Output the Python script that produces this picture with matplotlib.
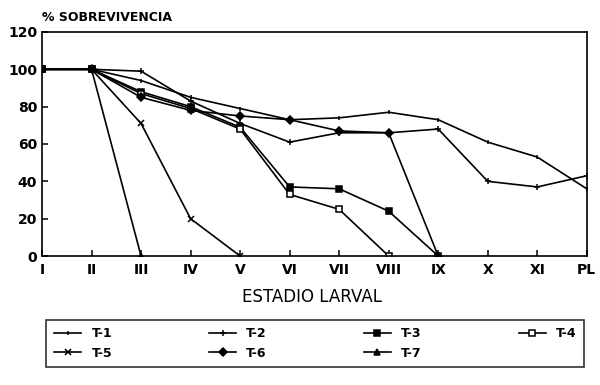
import numpy as np
import matplotlib.pyplot as plt

plt.rcParams['font.family'] = ['DejaVu Sans']

# datos (% sobrevivencia por estadio larval)
estadios = ['I', 'II', 'III', 'IV', 'V', 'VI', 'VII', 'VIII', 'IX', 'X', 'XI', 'PL']
t1 = [100, 100, 94, 85, 79, 73, 74, 77, 73, 61, 53, 36]
t2 = [100, 100, 99, 83, 71, 61, 66, 66, 68, 40, 37, 43]
t3 = [100, 100, 88, 80, 69, 37, 36, 24, 0]
t4 = [100, 100, 87, 79, 68, 33, 25, 0]
t5 = [100, 100, 71, 20, 0]
t6 = [100, 100, 85, 78, 75, 73, 67, 66, 0]
t7 = [100, 100, 0]

series = [
    ('T-1', t1, '|', 'k'),
    ('T-2', t2, '+', 'k'),
    ('T-3', t3, 's', 'k'),
    ('T-4', t4, 's', 'w'),
    ('T-5', t5, 'x', 'k'),
    ('T-6', t6, 'D', 'k'),
    ('T-7', t7, '^', 'k'),
]

fig = plt.figure(figsize=(6, 3.85), dpi=100)
ax = fig.add_axes([0.07, 0.335, 0.908, 0.582])

lines = {}
for name, vals, mk, fc in series:
    x = np.arange(len(vals))
    ms = 3 if mk == '|' else 4.5
    ln, = ax.plot(x, vals, color='k', lw=1.2, marker=mk, ms=ms,
                  mfc=fc, mec='k', mew=1.1, label=name)
    lines[name] = ln

ax.set_xlim(0, 11)
ax.set_ylim(0, 120)
ax.set_xticks(range(len(estadios)))
ax.set_xticklabels(estadios)
ax.set_yticks(range(0, 121, 20))
ax.tick_params(direction='in', length=4, width=1.1, labelsize=10, colors='k')
ax.tick_params(axis='x', pad=5)
for sp in ax.spines.values():
    sp.set_linewidth(1.2)
for lab in ax.get_xticklabels() + ax.get_yticklabels():
    lab.set_fontweight('bold')

fig.text(0.07, 0.955, '% SOBREVIVENCIA', fontsize=9, fontweight='bold', ha='left', va='center')
fig.text(0.52, 0.228, 'ESTADIO LARVAL', fontsize=12, ha='center', va='center')

# orden para llenar por filas: T-1..T-4 arriba, T-5..T-7 abajo
orden = ['T-1', 'T-5', 'T-2', 'T-6', 'T-3', 'T-7', 'T-4']
leg = fig.legend([lines[n] for n in orden], orden, ncol=4, mode='expand',
                 loc='center', bbox_to_anchor=(0.067, 0.026, 0.917, 0.164),
                 frameon=True, fancybox=False, edgecolor='k', fontsize=9,
                 handlelength=2.2, borderpad=0.6, labelspacing=0.5)
leg.get_frame().set_linewidth(1.2)
for t in leg.get_texts():
    t.set_fontweight('bold')

fig.savefig('out.png', dpi=100)
